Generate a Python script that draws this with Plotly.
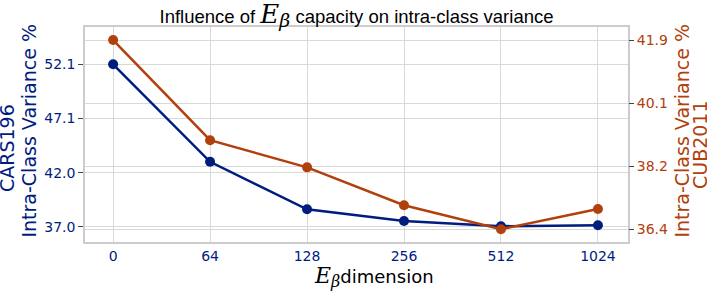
import plotly.graph_objects as go

dims = ["0", "64", "128", "256", "512", "1024"]
cars196 = [52.1, 43.04, 38.62, 37.53, 37.05, 37.13]
cub2011 = [41.9, 38.99, 38.2, 37.1, 36.4, 36.99]
left_ticks = [37.0, 42.03, 47.07, 52.1]
right_ticks = [36.4, 38.23, 40.07, 41.9]

BLUE = "#001c7f"
ORANGE = "#b1400d"
GRID = "#d9d9d9"
SANS = "DejaVu Sans"
SERIF = "DejaVu Serif"


def e_beta(e_size, b_size):
    return ('<span style="font-family:%s;font-size:%dpx"><i>E</i></span>'
            '<sub><span style="font-family:%s;font-size:%dpx"><i>β</i></span></sub>') % (SERIF, e_size, SERIF, b_size)


fig = go.Figure()
fig.add_trace(go.Scatter(x=dims, y=cars196, mode="lines+markers", yaxis="y",
                         line=dict(color=BLUE, width=2.5), marker=dict(size=10, color=BLUE),
                         name="CARS196", showlegend=False, hoverinfo="skip"))
fig.add_trace(go.Scatter(x=dims, y=cub2011, mode="lines+markers", yaxis="y2",
                         line=dict(color=ORANGE, width=2.5), marker=dict(size=10, color=ORANGE),
                         name="CUB2011", showlegend=False, hoverinfo="skip"))

fig.update_layout(
    width=707, height=291,
    margin=dict(l=85, r=79, t=27, b=49),
    paper_bgcolor="white", plot_bgcolor="white",
    font=dict(family=SANS, size=14),
    title=dict(
        text='Influence of ' + e_beta(26, 19) + ' capacity on intra-class variance',
        x=0.5, xref="paper", xanchor="center", y=0.942, yanchor="middle",
        font=dict(family="Liberation Sans", size=18.5, color="black")),
    xaxis=dict(type="category", range=[-0.29, 5.31], showgrid=True, gridcolor=GRID, gridwidth=1,
               showline=True, linecolor="#cccccc", linewidth=1.5, mirror=True,
               ticks="", tickfont=dict(color=BLUE, size=14), zeroline=False),
    yaxis=dict(range=[35.58, 55.57], tickvals=left_ticks,
               ticktext=["%.1f" % v for v in left_ticks], tickfont=dict(color=BLUE, size=14),
               showgrid=True, gridcolor=GRID, gridwidth=1, zeroline=False,
               showline=True, linecolor="#cccccc", linewidth=1.5, mirror=True,
               ticks="outside", ticklen=5, tickcolor="#444444"),
    yaxis2=dict(range=[36.03, 42.28], tickvals=right_ticks,
                ticktext=["%.1f" % v for v in right_ticks], tickfont=dict(color=ORANGE, size=14),
                overlaying="y", side="right", showgrid=True, gridcolor=GRID, gridwidth=1,
                zeroline=False, ticks="outside", ticklen=5, tickcolor="#444444"),
    annotations=[
        dict(text="CARS196", xref="paper", yref="paper",
             x=-0.1436, y=0.437, xanchor="center", yanchor="middle", textangle=-90,
             showarrow=False, font=dict(family=SANS, size=19, color=BLUE)),
        dict(text="Intra-Class Variance %", xref="paper", yref="paper",
             x=-0.1022, y=0.516, xanchor="center", yanchor="middle", textangle=-90,
             showarrow=False, font=dict(family=SANS, size=19, color=BLUE)),
        dict(text="Intra-Class Variance %", xref="paper", yref="paper",
             x=1.1004, y=0.516, xanchor="center", yanchor="middle", textangle=-90,
             showarrow=False, font=dict(family=SANS, size=19, color=ORANGE)),
        dict(text="CUB2011", xref="paper", yref="paper",
             x=1.1326, y=0.451, xanchor="center", yanchor="middle", textangle=-90,
             showarrow=False, font=dict(family=SANS, size=19, color=ORANGE)),
        dict(text=e_beta(22, 16) + 'dimension',
             xref="paper", yref="paper", x=0.532, y=-0.165, xanchor="center", yanchor="middle",
             showarrow=False, font=dict(family=SANS, size=18, color="black")),
    ],
)

fig.write_html("out.html", config={"displayModeBar": False},
               post_script="document.body.style.margin='0px';document.body.style.overflow='hidden';")
